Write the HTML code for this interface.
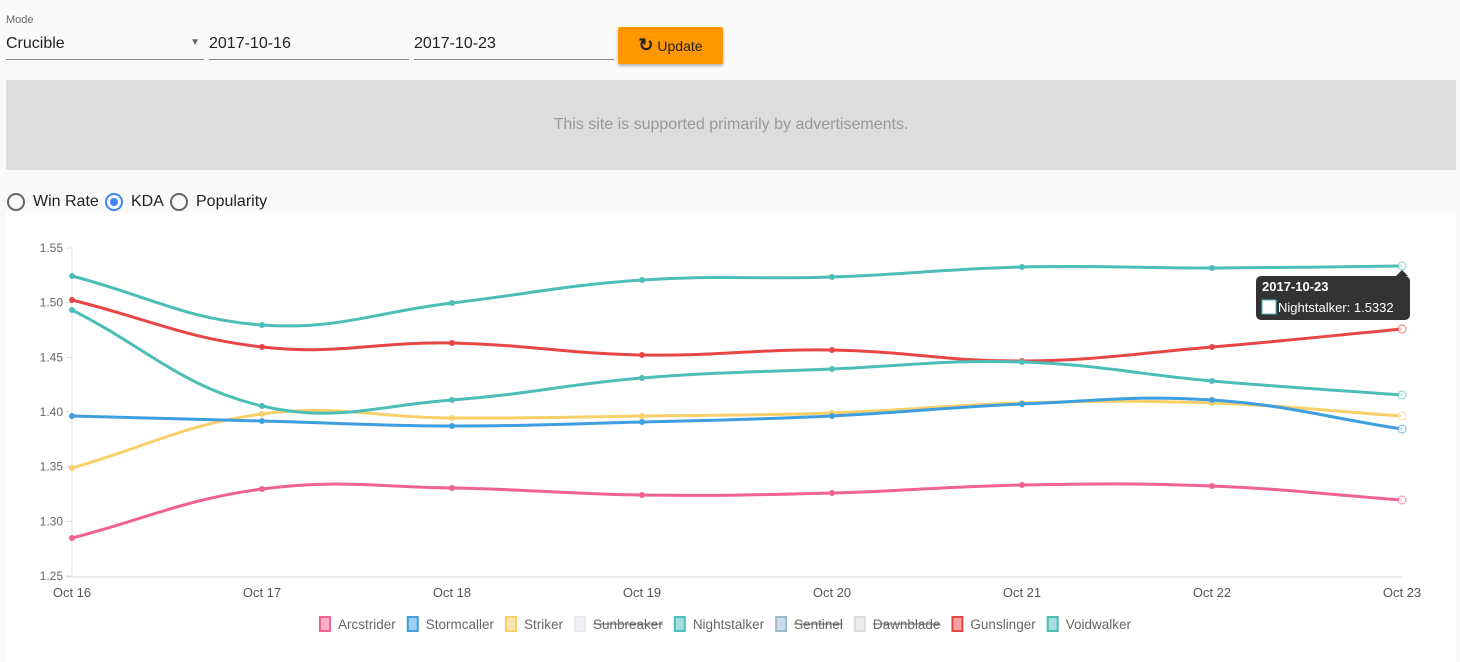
<!DOCTYPE html>
<html><head><meta charset="utf-8"><style>
body{margin:0;width:1460px;height:662px;background:#fafafa;font-family:"Liberation Sans",sans-serif;position:relative;overflow:hidden}
.a{position:absolute}
.lab{font-size:11px;color:#666}
.inp{font-size:16px;color:#222;border-bottom:1px solid #888;height:24px}
.r{position:absolute;top:193px;width:18px;height:18px;border:2px solid #666;border-radius:50%;box-sizing:border-box}
.rt{position:absolute;top:193px;font-size:16px;color:#222}
</style></head><body>
<div class="a lab" style="left:6px;top:14px">Mode</div>
<div class="a inp" style="left:6px;top:35px;width:198px">Crucible<span style="position:absolute;right:4px;top:2px;font-size:10px;color:#666">▼</span></div>
<div class="a inp" style="left:209px;top:35px;width:200px">2017-10-16</div>
<div class="a inp" style="left:414px;top:35px;width:200px">2017-10-23</div>
<div class="a" style="left:618px;top:27px;width:105px;height:37px;background:#ff9800;border-radius:2px;box-shadow:0 2px 3px rgba(0,0,0,.3);font-size:14px;color:#222;line-height:37px;text-align:center"><b style="font-size:18px">↻</b> Update</div>
<div class="a" style="left:6px;top:80px;width:1450px;height:90px;background:#dddddd;color:#999;font-size:16px;text-align:center;line-height:90px">This site is supported primarily by advertisements.</div>
<div class="r" style="left:7px"></div><div class="rt" style="left:33px">Win Rate</div>
<div class="r" style="left:105px;border-color:#4285f4"><div style="position:absolute;left:3px;top:3px;width:8px;height:8px;border-radius:50%;background:#4285f4"></div></div><div class="rt" style="left:131px">KDA</div>
<div class="r" style="left:170px"></div><div class="rt" style="left:196px">Popularity</div>
<div class="a" style="left:6px;top:212px;width:1450px;height:450px;background:#fff"></div>
<svg class="a" style="left:0;top:0" width="1460" height="662" id="s" font-family="Liberation Sans, sans-serif"></svg>
<script>
var s=document.getElementById('s'),h='';
var X0=72,DX=190,Y=function(v){return 576-(v-1.25)/0.3*328};
h+='<line x1="72" y1="248" x2="72" y2="577" stroke="#ddd"/><line x1="66" y1="577" x2="1402" y2="577" stroke="#ddd"/>';
['1.55','1.50','1.45','1.40','1.35','1.30','1.25'].forEach(function(t){var y=Y(+t);h+='<line x1="66" y1="'+y+'" x2="72" y2="'+y+'" stroke="#ddd"/><text x="63" y="'+(y+4)+'" text-anchor="end" font-size="12" fill="#666">'+t+'</text>'});
for(var i=0;i<8;i++)h+='<text x="'+(X0+i*DX)+'" y="597" text-anchor="middle" font-size="13" fill="#555">Oct '+(16+i)+'</text>';
var S=[['#f06292',[538,489,488,495,493,485,486,500]],['#f7d06a',[468,414,418,416,413,403,403,416]],['#3d9ee0',[416,421,426,422,416,404,400,429]],['#e84646',[300,347,343,355,350,361,347,329]],['#4dbdb8',[310,406,400,378,369,362,381,395]],['#4dbdb8',[276,325,303,280,277,267,268,266]]];
S.forEach(function(sr){var p=sr[1].map(function(y,i){return[X0+i*DX,y]});var d='M'+p[0];
 var cp=p.map(function(c,i){var a=p[i-1]||c,b=p[i+1]||c;var d01=Math.hypot(c[0]-a[0],c[1]-a[1]),d12=Math.hypot(b[0]-c[0],b[1]-c[1]);var fa=0.4*d01/(d01+d12||1),fb=0.4*d12/(d01+d12||1);return[[c[0]-fa*(b[0]-a[0]),c[1]-fa*(b[1]-a[1])],[c[0]+fb*(b[0]-a[0]),c[1]+fb*(b[1]-a[1])]]});
 for(var i=1;i<p.length;i++)d+=' C'+cp[i-1][1]+' '+cp[i][0]+' '+p[i];
 h+='<path d="'+d+'" fill="none" stroke="'+sr[0]+'" stroke-width="3"/>';
 p.forEach(function(q,i){h+='<circle cx="'+q[0]+'" cy="'+q[1]+'" r="'+(i==7?4:2.5)+'" fill="'+(i==7?'#fff':sr[0])+'" stroke="'+sr[0]+'" stroke-width="1" opacity="'+(i==7?0.7:1)+'"/>'})});
h+='<path d="M1396 276 L1402 270 L1408 276 Z" fill="#333"/><rect x="1256" y="276" width="154" height="44" rx="5" fill="#333"/>';
h+='<text x="1262" y="291" font-size="13" font-weight="bold" fill="#fff">2017-10-23</text><rect x="1262" y="300" width="14" height="14" fill="#fff" stroke="#4dbdb8"/><text x="1278" y="312" font-size="13" fill="#fff">Nightstalker: 1.5332</text>';
var L=[['Arcstrider','#f06292',0],['Stormcaller','#3d9ee0',0],['Striker','#f7d06a',0],['Sunbreaker','#e8e8ee',1],['Nightstalker','#4dbdb8',0],['Sentinel','#9bbccc',1],['Dawnblade','#ddd',1],['Gunslinger','#e84646',0],['Voidwalker','#4dbdb8',0]];
var x=319;var c=document.createElement('canvas').getContext('2d');c.font='13.5px Liberation Sans';
L.forEach(function(l){h+='<rect x="'+(x+1)+'" y="617" width="10" height="14" fill="'+l[1]+'" opacity="0.5"/><rect x="'+(x+1)+'" y="617" width="10" height="14" fill="none" stroke="'+l[1]+'" stroke-width="2"/>';var w=c.measureText(l[0]).width;h+='<text x="'+(x+19)+'" y="629" font-size="13.5" fill="#666">'+l[0]+'</text>';if(l[2])h+='<line x1="'+(x+19)+'" y1="624" x2="'+(x+19+w)+'" y2="624" stroke="#666"/>';x+=19+w+11});
s.innerHTML=h;
</script>
</body></html>
